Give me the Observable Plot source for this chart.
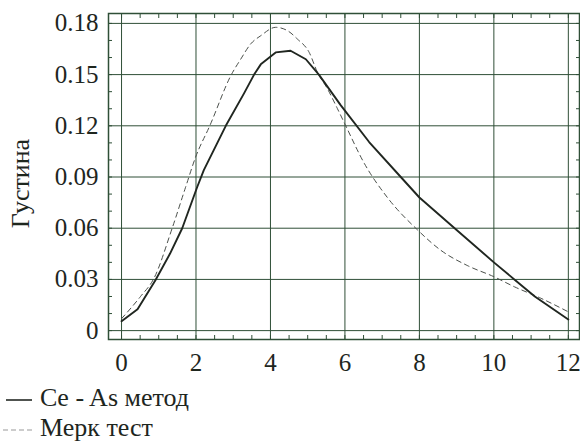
<!DOCTYPE html>
<html>
<head>
<meta charset="utf-8">
<script src="https://cdn.jsdelivr.net/npm/d3@7"></script>
<script src="https://cdn.jsdelivr.net/npm/@observablehq/plot@0.6"></script>
<style>
  body { margin: 0; background: #fff; }
  #chart svg { display: block; }
  .legend { font-family: "Liberation Serif", "Tinos", "DejaVu Serif", "Noto Serif", serif; font-size: 26px; color: #1e261e; margin-top: 3px; }
  .row { height: 30px; line-height: 30px; white-space: nowrap; }
  .row svg { vertical-align: middle; margin-right: 6px; }
</style>
</head>
<body>
<div id="chart"></div>
<div class="legend">
  <div class="row"><svg width="34" height="10"><line x1="6" x2="32" y1="5" y2="5" stroke="#252a25" stroke-width="1.6"/></svg>Ce - As метод</div>
  <div class="row"><svg width="34" height="10"><line x1="3" x2="32" y1="5" y2="5" stroke="#9a9a9a" stroke-width="1.2" stroke-dasharray="5,3"/></svg>Мерк тест</div>
</div>
<script>
// Data
const ceAsX = [0, 0.43, 0.91, 1.3, 1.63, 2.03, 2.21, 2.8, 3.29, 3.56, 3.74, 4.14, 4.54, 4.95, 5.3, 5.89, 6.65, 7.5, 8.0, 9.0, 10.0, 10.55, 11.1, 12.0];
const ceAsY = [0.0055, 0.0125, 0.0295, 0.045, 0.06, 0.084, 0.094, 0.12, 0.139, 0.15, 0.156, 0.163, 0.164, 0.159, 0.150, 0.132, 0.1105, 0.09, 0.078, 0.059, 0.040, 0.030, 0.020, 0.0065];
const merckX = [0, 0.51, 0.87, 1.36, 1.72, 1.99, 2.37, 2.95, 3.2, 3.47, 3.74, 4.14, 4.46, 4.72, 5.04, 5.26, 5.53, 5.8, 6.0, 6.52, 7.14, 7.95, 8.58, 9.3, 10.0, 10.55, 11.26, 12.0];
const merckY = [0.007, 0.02, 0.0306, 0.06, 0.084, 0.1017, 0.12, 0.15, 0.159, 0.168, 0.1728, 0.1777, 0.1757, 0.1709, 0.163, 0.1514, 0.1417, 0.130, 0.121, 0.098, 0.078, 0.059, 0.047, 0.038, 0.0316, 0.0257, 0.019, 0.011];
const xTicks = [0, 2, 4, 6, 8, 10, 12];
const yTicks = [0, 0.03, 0.06, 0.09, 0.12, 0.15, 0.18];
const xMinor = d3.range(0, 12.01, 0.5);
const yMinor = d3.range(0, 0.1801, 0.01);
const yLabel = "Густина";

const ceAs = ceAsX.map((x, i) => ({x, y: ceAsY[i]}));
const merck = merckX.map((x, i) => ({x, y: merckY[i]}));

const gridColor = "#2f4f37";
const ink = "#1e261e";
const serif = "'Liberation Serif', Tinos, 'DejaVu Serif', 'Noto Serif', serif";

const chart = Plot.plot({
  width: 580,
  height: 380,
  marginLeft: 108,
  marginRight: 1,
  marginTop: 13,
  marginBottom: 41,
  x: {domain: [-0.35, 12.3]},
  y: {domain: [-0.0052, 0.1858]},
  style: {fontFamily: serif, fontSize: "25px", color: ink, background: "white"},
  marks: [
    Plot.gridX(xTicks, {stroke: gridColor, strokeOpacity: 1, strokeWidth: 1}),
    Plot.gridY(yTicks, {stroke: gridColor, strokeOpacity: 1, strokeWidth: 1}),
    Plot.axisX(xMinor, {anchor: "bottom", tickSize: 4, dy: -4, fill: "none", stroke: gridColor}),
    Plot.axisX(xMinor, {anchor: "top", tickSize: 4, dy: 4, fill: "none", stroke: gridColor}),
    Plot.axisY(yMinor, {anchor: "left", tickSize: 4, dx: 4, fill: "none", stroke: gridColor}),
    Plot.axisY(yMinor, {anchor: "right", tickSize: 4, dx: -4, fill: "none", stroke: gridColor}),
    Plot.axisX(xTicks, {anchor: "bottom", tickSize: 0, tickPadding: 14, tickFormat: d => String(d), label: null, fill: ink, fontFamily: serif}),
    Plot.axisY(yTicks, {anchor: "left", tickSize: 0, tickPadding: 10, tickFormat: d => d === 0 ? "0" : d.toFixed(2), label: null, fill: ink, fontFamily: serif}),
    Plot.text([yLabel], {frameAnchor: "left", text: d => d, rotate: -90, dx: -80, dy: 7, lineAnchor: "bottom", textAnchor: "middle", fontSize: 26, fontFamily: serif, fill: ink}),
    Plot.frame({stroke: gridColor, strokeWidth: 1.5}),
    Plot.line(merck, {x: "x", y: "y", stroke: "#4a4f4a", strokeWidth: 1, strokeDasharray: "5,4", curve: "monotone-x"}),
    Plot.line(ceAs, {x: "x", y: "y", stroke: "#202620", strokeWidth: 1.9})
  ]
});
document.getElementById("chart").append(chart);
</script>
</body>
</html>
